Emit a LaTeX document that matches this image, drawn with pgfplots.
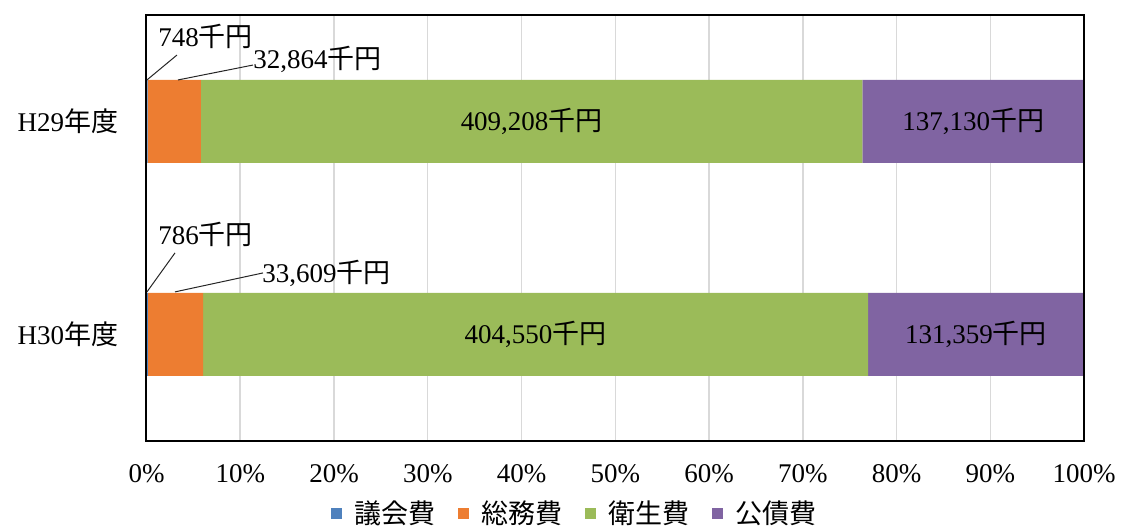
\documentclass[border=0pt]{standalone}
\usepackage{pgfplots}
\pgfplotsset{compat=1.18}
\usepackage{fontspec}
\setmainfont{Liberation Serif}
\newfontfamily\cjk{Noto Sans CJK JP}
\newcommand{\jp}[1]{{\cjk #1}}
\definecolor{cBlue}{HTML}{4F81BD}
\definecolor{cOrange}{HTML}{ED7D31}
\definecolor{cGreen}{HTML}{9BBB59}
\definecolor{cPurple}{HTML}{8064A2}
\definecolor{cGrid}{HTML}{D9D9D9}
\begin{document}
\fontsize{13.5}{16}\selectfont
\begin{tikzpicture}[font=\fontsize{13.5}{16}\selectfont]
\begin{axis}[
  xbar stacked,
  scale only axis,
  width=468.75pt, height=213pt,
  xmin=0, xmax=100, ymin=-0.5, ymax=1.5,
  bar width=41.5pt,
  axis line style={line width=1pt, black},
  xtick={0,10,...,100},
  xticklabel={\pgfmathprintnumber{\tick}\%},
  /pgf/number format/assume math mode=true,
  xmajorgrids,
  major grid style={cGrid, line width=0.75pt},
  ytick={0,1},
  yticklabels={H30\jp{年度}, H29\jp{年度}},
  major tick length=0pt,
  xticklabel style={anchor=north, inner sep=0pt, yshift=-11.5pt},
  yticklabel style={anchor=east, inner sep=0pt, xshift=-14pt},
  legend columns=4,
  legend image code/.code={\fill[#1] (0pt,-2.75pt) rectangle (5.5pt,2.75pt);},
  legend style={draw=none, fill=none, at={(0.456,0)}, anchor=center, yshift=-36.5pt,
    nodes={inner sep=0pt},
    /tikz/every odd column/.append style={column sep=6.5pt},
    /tikz/every even column/.append style={column sep=11pt}},
]
\addplot[fill=cBlue, draw=none] coordinates {(0.138,0) (0.129,1)};
\addplot[fill=cOrange, draw=none] coordinates {(5.893,0) (5.667,1)};
\addplot[fill=cGreen, draw=none] coordinates {(70.936,0) (70.559,1)};
\addplot[fill=cPurple, draw=none] coordinates {(23.033,0) (23.645,1)};
\legend{\jp{議会費}, \jp{総務費}, \jp{衛生費}, \jp{公債費}}
\coordinate (fSW) at (rel axis cs:0,0);
\coordinate (fNE) at (rel axis cs:1,1);
\coordinate (g29) at (axis cs:41.08,1);
\coordinate (p29) at (axis cs:88.18,1);
\coordinate (g30) at (axis cs:41.50,0);
\coordinate (p30) at (axis cs:88.48,0);
\coordinate (a1) at (axis cs:0.05,1.195);
\coordinate (a2) at (axis cs:3.25,1.312);
\coordinate (at) at (axis cs:1.23,1.401);
\coordinate (b1) at (axis cs:3.36,1.195);
\coordinate (b2) at (axis cs:11.36,1.265);
\coordinate (bt) at (axis cs:11.36,1.293);
\coordinate (c1) at (axis cs:0.05,0.2);
\coordinate (c2) at (axis cs:3.04,0.383);
\coordinate (ct) at (axis cs:1.23,0.472);
\coordinate (d1) at (axis cs:3.04,0.2);
\coordinate (d2) at (axis cs:12.43,0.289);
\coordinate (dt) at (axis cs:12.32,0.289);
\end{axis}
% frame on top
\draw[line width=1pt, black] (fSW) rectangle (fNE);
% centred labels
\node at (g29) {409,208\jp{千円}};
\node at (p29) {137,130\jp{千円}};
\node at (g30) {404,550\jp{千円}};
\node at (p30) {131,359\jp{千円}};
% leader labels
\draw[line width=0.5pt, black!85] (a1) -- (a2);
\node[anchor=west, inner sep=0pt] at (at) {748\jp{千円}};
\draw[line width=0.5pt, black!85] (b1) -- (b2);
\node[anchor=west, inner sep=0pt] at (bt) {32,864\jp{千円}};
\draw[line width=0.5pt, black!85] (c1) -- (c2);
\node[anchor=west, inner sep=0pt] at (ct) {786\jp{千円}};
\draw[line width=0.5pt, black!85] (d1) -- (d2);
\node[anchor=west, inner sep=0pt] at (dt) {33,609\jp{千円}};
\pgfresetboundingbox
\path ([shift={(-73.25pt,-43pt)}]current axis.south west) rectangle ([shift={(18.5pt,7.5pt)}]current axis.north east);
\end{tikzpicture}
\end{document}
